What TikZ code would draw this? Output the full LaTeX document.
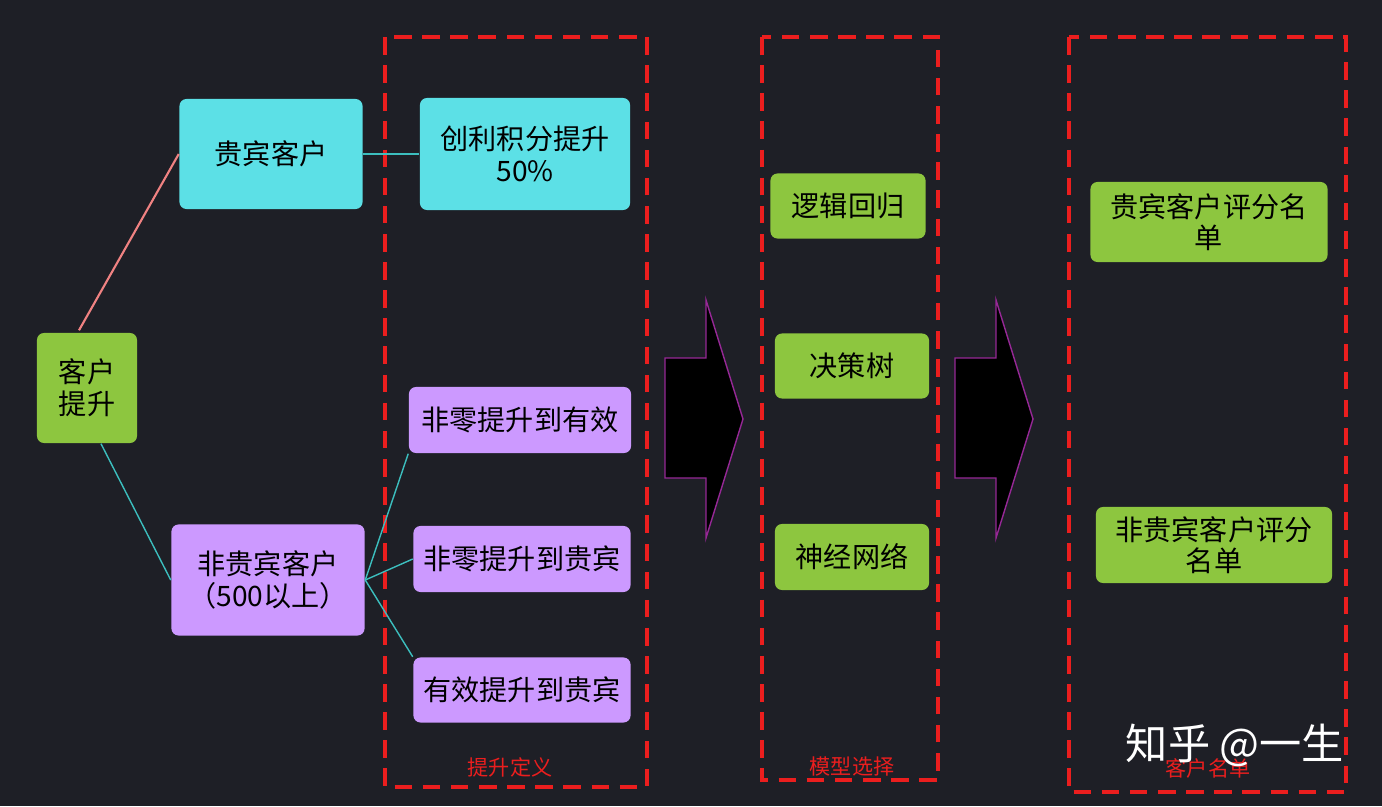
\documentclass[tikz,border=0pt]{standalone}
\usepackage{fontspec}
\setmainfont{Noto Sans CJK SC}
\usetikzlibrary{positioning}
\definecolor{bgdark}{RGB}{30,31,38}
\definecolor{boxgreen}{RGB}{141,198,63}
\definecolor{boxcyan}{RGB}{92,224,230}
\definecolor{boxviolet}{RGB}{204,153,255}
\definecolor{linkteal}{RGB}{60,190,190}
\definecolor{linkpink}{RGB}{240,130,130}
\definecolor{framered}{RGB}{235,30,30}
\definecolor{arrowedge}{RGB}{150,40,150}
\tikzset{
  box/.style={rounded corners=2pt, inner sep=1pt, align=center, text=black, font=\fontsize{8}{9}\selectfont},
  green box/.style={box, fill=boxgreen},
  cyan box/.style={box, fill=boxcyan},
  violet box/.style={box, fill=boxviolet},
  link/.style={linkteal, thin},
  frame/.style={framered, very thick, dash pattern=on 5pt off 3pt},
  frame label/.style={text=framered, font=\fontsize{6}{7}\selectfont},
  big arrow/.style={fill=black, draw=arrowedge, thin}
}
\begin{document}
\begin{tikzpicture}[x=0.01cm, y=-0.01cm]
    \fill[bgdark] (0,0) rectangle (1382,806);
    \useasboundingbox (0,0) rectangle (1382,806);

    % Frames
    \draw[frame] (385,37) rectangle (647,787);
    \draw[frame] (762,37) rectangle (938,780);
    \draw[frame] (1069,37) rectangle (1346,792);
    \node[frame label] (lblDef) at (510,767) {提升定义};
    \node[frame label] (lblModel) at (852,766) {模型选择};
    \node[frame label] (lblList) at (1208,768) {客户名单};

    % Left tree
    \node[green box, minimum width=1cm, minimum height=1.1cm] (root) at (87,388) {客户\\提升};
    \node[cyan box, minimum width=1.83cm, minimum height=1.1cm] (vip) at (271,154) {贵宾客户};
    \node[violet box, minimum width=1.93cm, minimum height=1.11cm] (nonvip) at (268,580) {非贵宾客户\\（500以上）};

    % Lift definitions
    \node[cyan box, minimum width=2.1cm, minimum height=1.12cm] (defA) at (525,154) {创利积分提升\\50\%};
    \node[violet box, minimum width=2.22cm, minimum height=0.66cm] (defB) at (520,420) {非零提升到有效};
    \node[violet box, minimum width=2.17cm, minimum height=0.66cm] (defC) at (522,559) {非零提升到贵宾};
    \node[violet box, minimum width=2.17cm, minimum height=0.65cm] (defD) at (522,690) {有效提升到贵宾};

    % Models
    \node[green box, minimum width=1.55cm, minimum height=0.65cm] (mLogit) at (848,206) {逻辑回归};
    \node[green box, minimum width=1.54cm, minimum height=0.65cm] (mTree) at (852,366) {决策树};
    \node[green box, minimum width=1.54cm, minimum height=0.66cm] (mNet) at (852,557) {神经网络};

    % Lists
    \node[green box, minimum width=2.37cm, minimum height=0.8cm] (listVip) at (1209,222) {贵宾客户评分名\\单};
    \node[green box, minimum width=2.36cm, minimum height=0.76cm] (listNon) at (1214,545) {非贵宾客户评分\\名单};

    % Connectors
    \draw[linkpink, semithick] (root.north) ++(-8,-2) coordinate (rootTop) (rootTop) -- (vip.west);
    \draw[link] (root.south) ++(14,0) coordinate (rootBot) (rootBot) -- (nonvip.west);
    \draw[link] (vip.east) -- (defA.west);
    \draw[link] (nonvip.east) -- (defB.south west);
    \draw[link] (nonvip.east) -- (defC.west);
    \draw[link] (nonvip.east) -- (defD.north west);

    % Big arrows
    \foreach \x in {665,955} {
        \draw[big arrow] (\x,358) -- (\x+41,358) -- (\x+41,300) -- (\x+78,419) -- (\x+41,538) -- (\x+41,478) -- (\x,478) -- cycle;
    }

    % Watermark
    \node[text=white, font=\fontsize{12}{13}\selectfont] (mark) at (1235,745) {知乎 @一生};
\end{tikzpicture}
\end{document}
